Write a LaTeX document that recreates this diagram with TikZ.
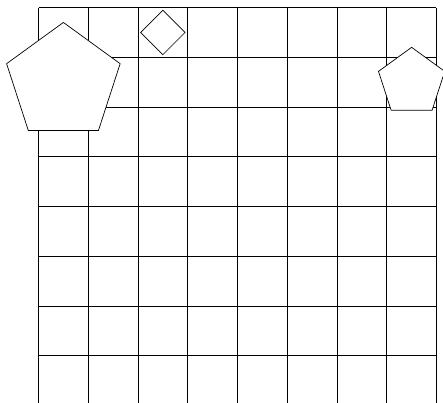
\documentclass[tikz,border=0pt]{standalone}
\usepackage{tikz}
\usetikzlibrary{shapes.geometric}

\begin{document}
\begin{tikzpicture}[
  pent/.style={draw, fill=white, regular polygon, regular polygon sides=5, inner sep=0pt},
  dia/.style={draw, fill=white, diamond, inner sep=0pt, minimum width=0.9cm, minimum height=0.9cm},
]
\useasboundingbox (-0.774,0.151) rectangle (8.131,-7.93);
\clip (-0.774,0.151) rectangle (8.131,-7.93);

% Board
\draw (0,-8) grid (8,0);

% Pieces
\node[pent, minimum size=2.4cm] (bigpent) at (0.5,-1.5) {};
\node[pent, minimum size=1.4cm] (smallpent) at (7.5,-1.5) {};
\node[dia] (gem) at (2.5,-0.5) {};

\end{tikzpicture}
\end{document}
